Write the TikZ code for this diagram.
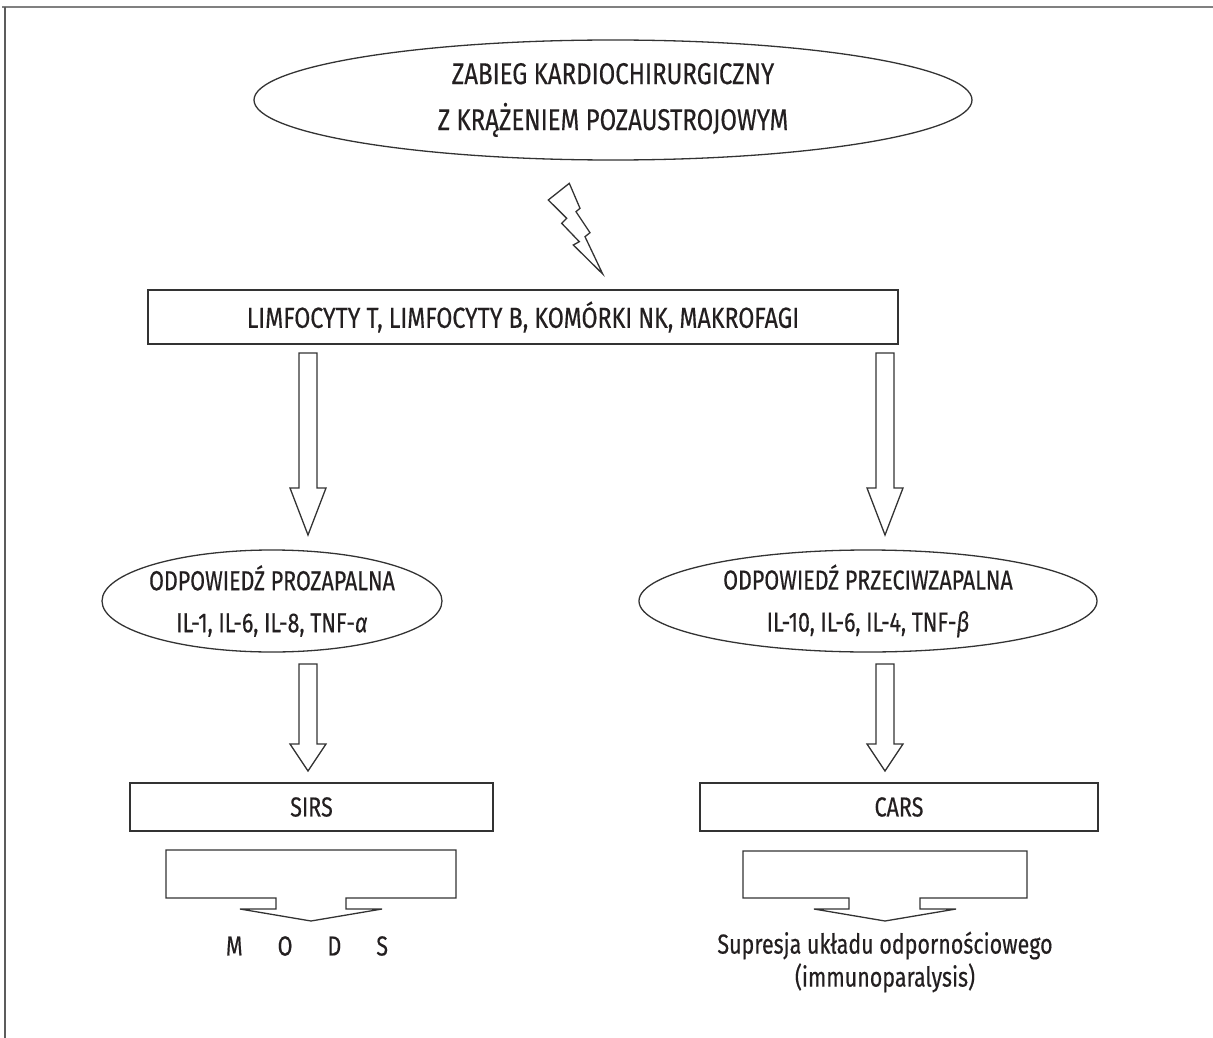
\documentclass[tikz,border=0pt]{standalone}
\usepackage{fontspec}
\setmainfont{Fira Sans}[FakeStretch=0.78, FakeBold=0.4]
\newfontfamily\bigf{Fira Sans}[FakeStretch=0.8, FakeBold=0.4]
\usetikzlibrary{shapes.geometric}
\definecolor{txt}{HTML}{231F20}
\definecolor{ln}{HTML}{333333}
\newcommand\fatarrow[4]{%
  \draw[fat] ({#1-9},#2) -- ({#1+9},#2) -- ({#1+9},#3) -- ({#1+18},#3) -- (#1,#4) -- ({#1-18},#3) -- ({#1-9},#3) -- cycle;}
\begin{document}
\begin{tikzpicture}[x=1pt,y=-1pt,
  every node/.style={font=\fontsize{27.5}{42}\selectfont, text=txt, inner sep=0pt},
  bigtext/.style={font=\bigf\fontsize{30}{46}\selectfont},
  ell/.style={ellipse, draw=ln, line width=1.3pt},
  bx/.style={rectangle, draw=ln, line width=1.6pt},
  fat/.style={draw=ln, line width=1.3pt, fill=white},
  framel/.style={draw=gray, line width=1.5pt}]
\useasboundingbox (0,0) rectangle (1213,1038);
\draw[framel] (2,7) -- (1213,7);
\draw[framel, draw=ln!80] (5,7) -- (5,1038);

\node[ell, minimum width=718pt, minimum height=120pt] (top) at (613,100) {};
\node[align=center, bigtext] (toptxt) at (top) {ZABIEG KARDIOCHIRURGICZNY\\Z KRĄŻENIEM POZAUSTROJOWYM};

\draw[fat] (569.3,183.3) -- (580,208.3) -- (576,211.7) -- (590,232.7) -- (585,236.7) -- (602.7,274)
  -- (573.3,245) -- (579.3,241.7) -- (561.7,223.3) -- (566.7,218.3) -- (548.3,200) -- cycle;

\node[bx, font=\bigf\fontsize{29}{40}\selectfont, minimum width=750pt, minimum height=54pt] (cells) at (523,317)
  {LIMFOCYTY T, LIMFOCYTY B, KOMÓRKI NK, MAKROFAGI};

\fatarrow{308}{353}{488}{535}
\fatarrow{885}{353}{488}{535}

\node[ell, minimum width=340pt, minimum height=102pt] (pro) at (272,601) {};
\node[align=center] (protxt) at (pro)
  {ODPOWIEDŹ PROZAPALNA\\IL-1, IL-6, IL-8, TNF-{\itshape α}};
\node[ell, minimum width=458pt, minimum height=102pt] (anti) at (868,601) {};
\node[align=center] (antitxt) at (anti)
  {ODPOWIEDŹ PRZECIWZAPALNA\\IL-10, IL-6, IL-4, TNF-{\itshape β}};

\fatarrow{308}{664}{744}{771}
\fatarrow{885}{664}{744}{771}

\node[bx, minimum width=363pt, minimum height=48pt] (sirs) at (311.5,807) {SIRS};
\node[bx, minimum width=398pt, minimum height=48pt] (cars) at (899,807) {CARS};

\draw[fat] (166,850) -- (456,850) -- (456,898) -- (346,898) -- (346,909) -- (382,909) -- (311,921)
  -- (240,909) -- (276,909) -- (276,898) -- (166,898) -- cycle;
\draw[fat] (743,851) -- (1027,851) -- (1027,898) -- (920,898) -- (920,909) -- (956,909) -- (885,921)
  -- (814,909) -- (849,909) -- (849,898) -- (743,898) -- cycle;

\node (mods) at (307,946) {M\hspace{35pt}O\hspace{35pt}D\hspace{35pt}S};
\node[align=center, font=\fontsize{27.5}{33}\selectfont] (sup) at (885,962)
  {Supresja układu odpornościowego\\(immunoparalysis)};
\end{tikzpicture}
\end{document}
